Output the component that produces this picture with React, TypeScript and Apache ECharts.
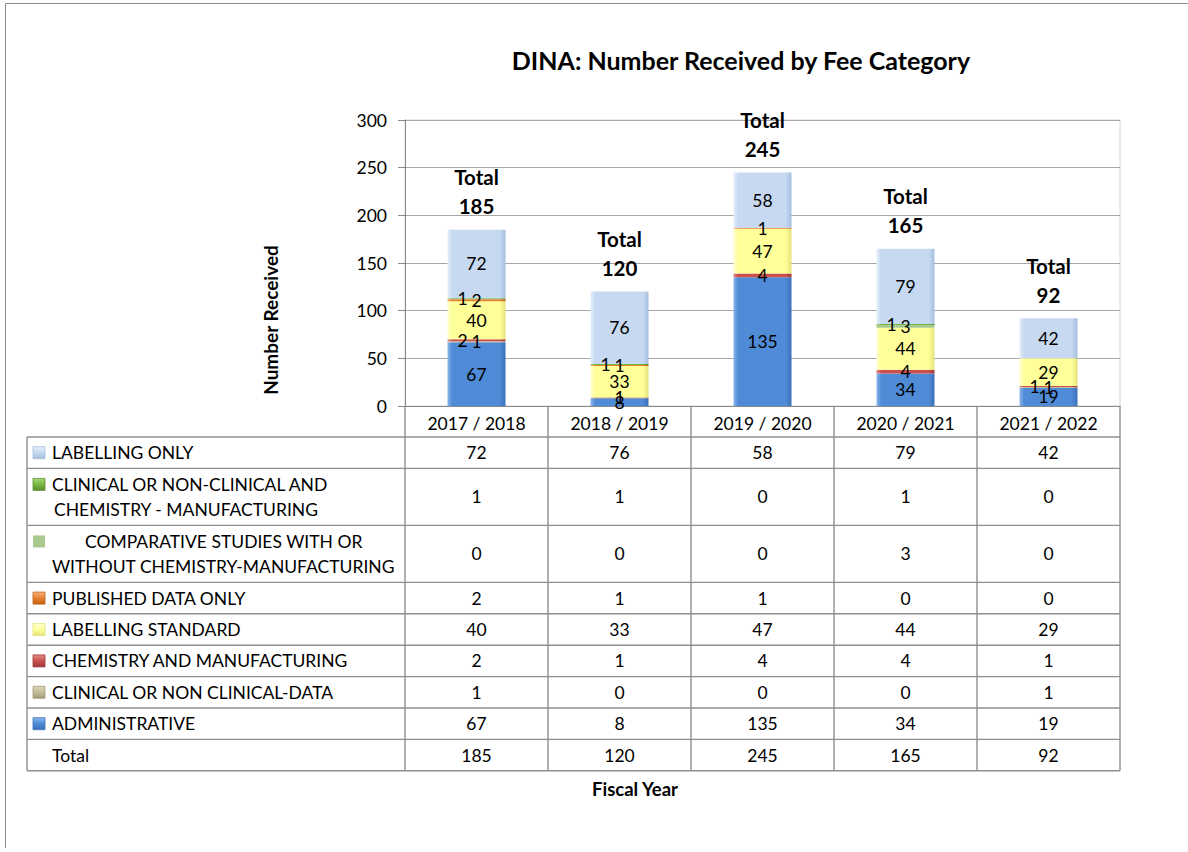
import React, { useEffect, useRef } from 'react';
import * as echarts from 'echarts';

// ---- data ----
const categories = ['2017 / 2018', '2018 / 2019', '2019 / 2020', '2020 / 2021', '2021 / 2022'];
const administrative = [67, 8, 135, 34, 19];
const clinicalData = [1, 0, 0, 0, 1];
const chemistryManufacturing = [2, 1, 4, 4, 1];
const labellingStandard = [40, 33, 47, 44, 29];
const publishedDataOnly = [2, 1, 1, 0, 0];
const comparativeStudies = [0, 0, 0, 3, 0];
const clinicalAndChemistry = [1, 1, 0, 1, 0];
const labellingOnly = [72, 76, 58, 79, 42];
const totals = [185, 120, 245, 165, 92];
const yTickValues = [0, 50, 100, 150, 200, 250, 300];

// series in stacking order (bottom -> top)
const seriesDefs = [
  { name: 'ADMINISTRATIVE', data: administrative, lines: ['ADMINISTRATIVE'], indent: [0] },
  { name: 'CLINICAL OR NON CLINICAL-DATA', data: clinicalData, lines: ['CLINICAL OR NON CLINICAL-DATA'], indent: [0] },
  { name: 'CHEMISTRY AND MANUFACTURING', data: chemistryManufacturing, lines: ['CHEMISTRY AND MANUFACTURING'], indent: [0] },
  { name: 'LABELLING STANDARD', data: labellingStandard, lines: ['LABELLING STANDARD'], indent: [0] },
  { name: 'PUBLISHED DATA ONLY', data: publishedDataOnly, lines: ['PUBLISHED DATA ONLY'], indent: [0] },
  {
    name: 'COMPARATIVE STUDIES WITH OR WITHOUT CHEMISTRY-MANUFACTURING',
    data: comparativeStudies,
    lines: ['COMPARATIVE STUDIES WITH OR', 'WITHOUT CHEMISTRY-MANUFACTURING'],
    indent: [33, 0],
  },
  {
    name: 'CLINICAL OR NON-CLINICAL AND CHEMISTRY - MANUFACTURING',
    data: clinicalAndChemistry,
    lines: ['CLINICAL OR NON-CLINICAL AND', 'CHEMISTRY - MANUFACTURING'],
    indent: [0, 2],
  },
  { name: 'LABELLING ONLY', data: labellingOnly, lines: ['LABELLING ONLY'], indent: [0] },
];

// ---- styles ----
const PALETTE = [
  { base: '#4f8bd6', light: '#8cb6ec', dark: '#3b70b8' },
  { base: '#c4bd97', light: '#dcd7bf', dark: '#a39c78' },
  { base: '#c9504d', light: '#e28c8a', dark: '#a03a38' },
  { base: '#ffff99', light: '#ffffd0', dark: '#e3e37a' },
  { base: '#e8802f', light: '#f5b27c', dark: '#c06010' },
  { base: '#a9c98f', light: '#a9c98f', dark: '#a9c98f' },
  { base: '#76b642', light: '#a8d680', dark: '#5a9030' },
  { base: '#c6d9f1', light: '#e6effa', dark: '#a4bedf' },
];

const FONT = 'Lato, "Open Sans", sans-serif';
const W = 1188;
const H = 852;
const GRID_LEFT = 405;
const GRID_RIGHT_X = 1120;
const GRID_TOP = 120;
const GRID_BOTTOM_Y = 406;
const TABLE_LEFT = 27;
const HEADER_H = 31;
const ROW_H1 = 31.4;
const ROW_H2 = 57;
const TABLE_LINE = '#8f8f8f';
const TABLE_FONT = '17.5px ' + FONT;

function barGradient(p: { base: string; light: string; dark: string }) {
  return new echarts.graphic.LinearGradient(0, 0, 1, 0, [
    { offset: 0, color: p.light },
    { offset: 0.08, color: p.base },
    { offset: 0.9, color: p.base },
    { offset: 1, color: p.dark },
  ]);
}

function swatchGradient(p: { base: string; light: string; dark: string }) {
  return new echarts.graphic.LinearGradient(0, 0, 0, 1, [
    { offset: 0, color: p.light },
    { offset: 0.5, color: p.base },
    { offset: 1, color: p.dark },
  ]);
}

function buildOption() {
  const colW = (GRID_RIGHT_X - GRID_LEFT) / categories.length;

  // label nudges for adjacent small segments (as the original does)
  const barSeries = seriesDefs.map((s, si) => {
    const data = s.data.map((v, ci) => {
      let prev = 0;
      for (let k = si - 1; k >= 0; k--) {
        const pv = seriesDefs[k].data[ci];
        if (pv > 0) {
          prev = pv;
          break;
        }
      }
      const small = v > 0 && v < 5 && prev > 0 && prev < 5;
      return small ? { value: v, label: { offset: [-14, 0] } } : { value: v };
    });
    return {
      name: s.name,
      type: 'bar',
      stack: 'total',
      barWidth: 58,
      data,
      itemStyle: { color: barGradient(PALETTE[si]) },
      label: {
        show: true,
        position: 'inside',
        color: '#000',
        fontSize: 17.5,
        fontFamily: FONT,
        formatter: (p: any) => (p.value === 0 ? '' : String(p.value)),
      },
      emphasis: { disabled: true },
      z: 2,
    };
  });

  const totalSeries = {
    name: 'Total',
    type: 'scatter',
    data: totals,
    symbol: 'circle',
    symbolSize: 0,
    itemStyle: { color: '#000' },
    label: {
      show: true,
      position: 'top',
      distance: 9,
      formatter: (p: any) => 'Total\n' + p.value,
      color: '#000',
      opacity: 1,
      fontSize: 20.5,
      fontWeight: 'bold',
      lineHeight: 29,
      fontFamily: FONT,
    },
    emphasis: { disabled: true },
    z: 5,
  };

  // ---- data table (graphic) ----
  const g: any[] = [];
  // outer chart border
  g.push({ type: 'line', shape: { x1: 5.5, y1: 3.5, x2: W, y2: 3.5 }, style: { stroke: '#8c8c8c', lineWidth: 1 } });
  g.push({ type: 'line', shape: { x1: 5.5, y1: 3.5, x2: 5.5, y2: 848 }, style: { stroke: '#8c8c8c', lineWidth: 1 } });

  g.push({
    type: 'text',
    x: 741,
    y: 60,
    style: {
      text: 'DINA: Number Received by Fee Category',
      font: 'bold 25px ' + FONT,
      fill: '#000',
      align: 'center',
      verticalAlign: 'middle',
    },
  });

  g.push({
    type: 'text',
    x: 270,
    y: 320,
    rotation: Math.PI / 2,
    style: {
      text: 'Number Received',
      font: 'bold 19px ' + FONT,
      fill: '#000',
      align: 'center',
      verticalAlign: 'middle',
    },
  });

  const rows = [
    ...seriesDefs
      .map((s, si) => ({ lines: s.lines, indent: s.indent, values: s.data, color: PALETTE[si], flat: si === 5 }))
      .reverse(),
    { lines: ['Total'], indent: [0], values: totals, color: null as any, flat: false },
  ];

  const tableTop = GRID_BOTTOM_Y + HEADER_H;
  let y = tableTop;
  const rowBounds: number[] = [y];
  rows.forEach((r) => {
    const h = r.lines.length === 1 ? ROW_H1 : ROW_H2;
    const cy = y + h / 2;
    const firstLineY = r.lines.length === 1 ? cy : y + 16;
    if (r.color) {
      g.push({
        type: 'rect',
        shape: { x: 33, y: firstLineY - 6, width: 12, height: 12 },
        style: {
          fill: r.flat ? r.color.base : swatchGradient(r.color),
          stroke: r.flat ? null : r.color.dark,
          lineWidth: 0.8,
        },
      });
    }
    r.lines.forEach((ln, li) => {
      const ly = r.lines.length === 1 ? cy : y + 16 + li * 25;
      g.push({
        type: 'text',
        x: 52 + r.indent[li],
        y: ly,
        style: { text: ln, font: TABLE_FONT, fill: '#000', align: 'left', verticalAlign: 'middle' },
      });
    });
    r.values.forEach((v, ci) => {
      g.push({
        type: 'text',
        x: GRID_LEFT + colW * (ci + 0.5),
        y: cy,
        style: { text: String(v), font: TABLE_FONT, fill: '#000', align: 'center', verticalAlign: 'middle' },
      });
    });
    y += h;
    rowBounds.push(y);
  });
  const tableBottom = y;

  rowBounds.forEach((by) => {
    g.push({
      type: 'line',
      shape: { x1: TABLE_LEFT, y1: by, x2: GRID_RIGHT_X, y2: by },
      style: { stroke: TABLE_LINE, lineWidth: 1.4 },
    });
  });
  g.push({
    type: 'line',
    shape: { x1: TABLE_LEFT, y1: tableTop, x2: TABLE_LEFT, y2: tableBottom },
    style: { stroke: TABLE_LINE, lineWidth: 1.4 },
  });
  for (let c = 0; c <= categories.length; c++) {
    const x = GRID_LEFT + colW * c;
    g.push({
      type: 'line',
      shape: { x1: x, y1: GRID_BOTTOM_Y, x2: x, y2: tableBottom },
      style: { stroke: TABLE_LINE, lineWidth: 1.4 },
    });
  }

  g.push({
    type: 'text',
    x: 635,
    y: 789,
    style: { text: 'Fiscal Year', font: 'bold 18.5px ' + FONT, fill: '#000', align: 'center', verticalAlign: 'middle' },
  });

  return {
    animation: false,
    backgroundColor: '#ffffff',
    grid: {
      left: GRID_LEFT,
      right: W - GRID_RIGHT_X,
      top: GRID_TOP,
      bottom: H - GRID_BOTTOM_Y,
      containLabel: false,
      outerBoundsMode: 'none',
      show: true,
      borderColor: '#d4d4d4',
      borderWidth: 1,
    },
    xAxis: {
      type: 'category',
      data: categories,
      axisLine: { show: true, lineStyle: { color: '#8a8a8a', width: 1 } },
      axisTick: { show: false },
      axisLabel: { color: '#000', fontSize: 17.5, fontFamily: FONT, margin: 8 },
    },
    yAxis: {
      type: 'value',
      min: yTickValues[0],
      max: yTickValues[yTickValues.length - 1],
      interval: yTickValues[1] - yTickValues[0],
      axisLine: { show: true, lineStyle: { color: '#8a8a8a', width: 1 } },
      axisTick: { show: true, inside: false, length: 7, lineStyle: { color: '#8a8a8a' } },
      axisLabel: { color: '#000', fontSize: 17.5, fontFamily: FONT, margin: 18 },
      splitLine: { show: true, lineStyle: { color: '#a6a6a6', width: 1 } },
    },
    series: [...barSeries, totalSeries],
    graphic: g,
  };
}

export default function App() {
  const ref = useRef<HTMLDivElement>(null);
  useEffect(() => {
    if (!ref.current) return;
    const chart = echarts.init(ref.current, undefined, { renderer: 'svg' });
    chart.setOption(buildOption() as any);
    return () => chart.dispose();
  }, []);
  return <div ref={ref} style={{ position: 'fixed', left: 0, top: 0, width: W, height: H }} />;
}
